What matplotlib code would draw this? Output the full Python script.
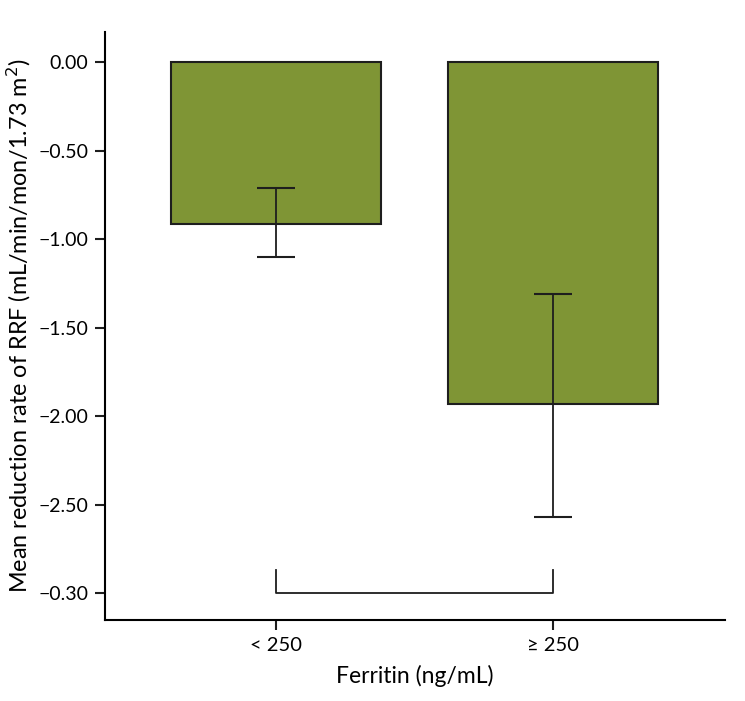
import numpy as np
import matplotlib
matplotlib.use("Agg")
import matplotlib.pyplot as plt

plt.rcParams['font.family'] = ['Lato', 'DejaVu Sans']

# data
groups = ["< 250", "\u2265 250"]
means = [-0.915, -1.93]
ci_low = [-1.10, -2.57]
ci_high = [-0.71, -1.31]

yticks = [0.0, -0.5, -1.0, -1.5, -2.0, -2.5, -3.0]
ytick_labels = ["0.00", "\u22120.50", "\u22121.00", "\u22121.50", "\u22122.00", "\u22122.50", "\u22120.30"]

x = np.arange(len(groups))
means = np.array(means)
yerr = np.array([means - np.array(ci_low), np.array(ci_high) - means])

fig = plt.figure(figsize=(7.45, 7.01), dpi=100)
ax = fig.add_axes([0.141, 0.1155, 0.832, 0.8385])

ax.bar(x, means, width=0.76, color="#7f9535", edgecolor="#1e1e1e", linewidth=1.5, zorder=2)
ax.errorbar(x, means, yerr=yerr, fmt="none", ecolor="#1e1e1e", elinewidth=1.3,
            capsize=14, capthick=1.5, zorder=3)

# significance bracket under the bars
ax.plot([x[0], x[0], x[1], x[1]], [-2.87, -3.0, -3.0, -2.87], color="#1e1e1e", lw=1.3)

ax.set_xlim(-0.617, 1.62)
ax.set_ylim(-3.15, 0.17)
ax.set_xticks(x)
ax.set_xticklabels(groups, fontsize=14.5)
ax.set_yticks(yticks)
ax.set_yticklabels(ytick_labels, fontsize=14)

ax.spines["top"].set_visible(False)
ax.spines["right"].set_visible(False)
ax.spines["left"].set_linewidth(1.5)
ax.spines["bottom"].set_linewidth(1.5)
ax.tick_params(direction="out", length=7, width=1.5, color="#1e1e1e", pad=5)

ax.set_xlabel("Ferritin (ng/mL)", fontsize=16.5, labelpad=8)
ax.set_ylabel("Mean reduction rate of RRF (mL/min/mon/1.73 m$^2$)", fontsize=16.8, labelpad=4)

fig.savefig("out.png", dpi=100)
